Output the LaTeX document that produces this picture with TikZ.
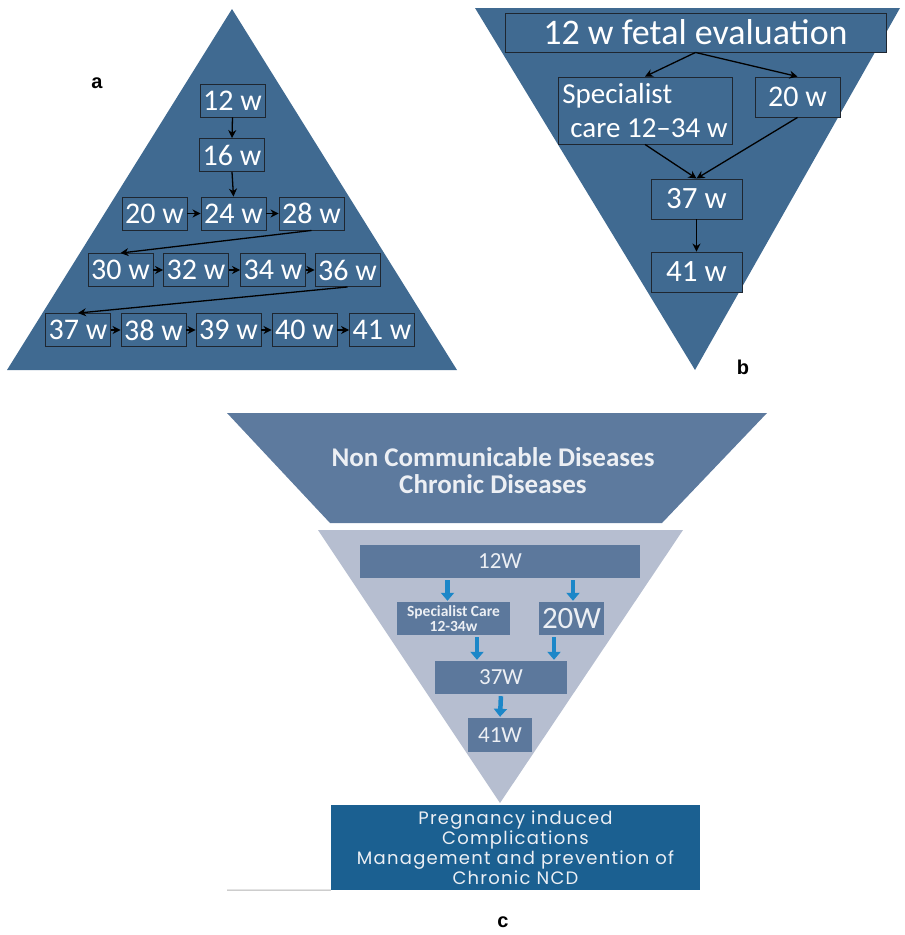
\documentclass[tikz,border=0pt]{standalone}
\usepackage{fontspec}
\setmainfont{Carlito}
\newfontfamily\lblfont{Liberation Sans}
\newfontfamily\geofont[LetterSpace=7]{Poppins}
\usetikzlibrary{arrows.meta,calc}
\definecolor{abfill}{RGB}{64,106,145}
\definecolor{abline}{RGB}{30,38,48}
\definecolor{ctrap}{RGB}{93,122,158}
\definecolor{ctri}{RGB}{182,190,208}
\definecolor{cbox}{RGB}{92,120,156}
\definecolor{carrow}{RGB}{28,135,200}
\definecolor{cbottom}{RGB}{27,96,145}
\definecolor{ctext}{RGB}{236,239,244}
\tikzset{
  wbox/.style={draw=abline, line width=0.9pt, fill=abfill, inner sep=0pt,
    minimum width=65pt, minimum height=33pt, text=white,
    font=\fontsize{30}{32}\selectfont},
  blk/.style={draw=black, line width=1.3pt, -{Stealth[length=8pt,width=8pt]}},
  cbx/.style={fill=cbox, inner sep=0pt, text=ctext, minimum height=33pt},
  carr/.style={draw=carrow, line width=4.5pt, -{Triangle[length=8pt,width=13pt]}, shorten <=2pt, shorten >=1pt},
  lbl/.style={font=\lblfont\bfseries\fontsize{20}{22}\selectfont, text=black}
}
\begin{document}
\begin{tikzpicture}[x=1pt,y=-1pt]
\useasboundingbox (0,0) rectangle (905,935);
% ---------- panel a ----------
\fill[abfill] (232,9) -- (457,370) -- (7,370) -- cycle;
\node[lbl] (la) at (97,83) {a};
\node[wbox] (a12) at (232.5,100.5) {12 w};
\node[wbox] (a16) at (232,155) {16 w};
\node[wbox] (a20) at (154.5,213.5) {20 w};
\node[wbox] (a24) at (233.5,213.5) {24 w};
\node[wbox] (a28) at (311.5,213.5) {28 w};
\node[wbox] (a30) at (120.5,270) {30 w};
\node[wbox] (a32) at (196,270) {32 w};
\node[wbox] (a34) at (273,270) {34 w};
\node[wbox] (a36) at (347.5,270) {36 w};
\node[wbox] (a37) at (78,330) {37 w};
\node[wbox] (a38) at (153.5,330) {38 w};
\node[wbox] (a39) at (228.5,330) {39 w};
\node[wbox] (a40) at (304.5,330) {40 w};
\node[wbox] (a41) at (382,330) {41 w};
\draw[blk] (a12.south) -- (a16.north);
\draw[blk] (a16.south) -- (a24.north);
\draw[blk] (a20) -- (a24);
\draw[blk] (a24) -- (a28);
\draw[blk] (a28.south) -- (a30.north);
\draw[blk] (a30) -- (a32);
\draw[blk] (a32) -- (a34);
\draw[blk] (a34) -- (a36);
\draw[blk] (a36.south) -- (a37.north);
\draw[blk] (a37) -- (a38);
\draw[blk] (a38) -- (a39);
\draw[blk] (a39) -- (a40);
\draw[blk] (a40) -- (a41);
% ---------- panel b ----------
\fill[abfill] (475,8) -- (900,8) -- (695,370) -- cycle;
\node[lbl] (lb) at (743,367) {b};
\node[wbox, minimum width=381pt, minimum height=39pt, font=\fontsize{36}{38}\selectfont] (bt) at (695.5,32.5) {12 w fetal evaluation};
\node[wbox, minimum width=174pt, minimum height=67pt, align=left, font=\fontsize{29}{34}\selectfont] (bs) at (645,110.5) {Specialist\\\hspace*{8pt}care 12–34 w};
\node[wbox, minimum width=85pt, minimum height=40pt] (b20) at (797.5,97) {20 w};
\node[wbox, minimum width=91pt, minimum height=40pt, font=\fontsize{31}{33}\selectfont] (b37) at (696.5,199) {37 w};
\node[wbox, minimum width=91pt, minimum height=40pt, font=\fontsize{31}{33}\selectfont] (b41) at (696.5,272) {41 w};
\draw[blk] (bt.south) -- (bs.north);
\draw[blk] (bt.south) -- (b20.north);
\draw[blk] (bs.south) -- (b37.north);
\draw[blk] (b20.south) -- (b37.north);
\draw[blk] (b37.south) -- (b41.north);
% ---------- panel c ----------
\fill[ctrap] (227,413) -- (767,413) -- (662,523) -- (330,523) -- cycle;
\node[text=ctext, align=center, font=\bfseries\fontsize{27}{27}\selectfont] (ncd) at (493,471) {Non Communicable Diseases\\Chronic Diseases};
\fill[ctri] (318,530) -- (683,530) -- (500,803) -- cycle;
\node[cbx, minimum width=280pt, font=\fontsize{23}{24}\selectfont] (c12) at (500,561.5) {12W};
\node[cbx, minimum width=113pt, align=center, font=\bfseries\fontsize{15.5}{14.5}\selectfont] (cs) at (453.5,618.5) {Specialist Care\\12-34w};
\node[cbx, minimum width=65pt, font=\fontsize{31}{32}\selectfont] (c20) at (571.5,618.5) {20W};
\node[cbx, minimum width=132pt, font=\fontsize{23}{24}\selectfont] (c37) at (501,677.5) {37W};
\node[cbx, minimum width=64pt, minimum height=34pt, font=\fontsize{23}{24}\selectfont] (c41) at (500,735) {41W};
\draw[carr] ([xshift=-6pt]cs.north |- c12.south) -- ([xshift=-6pt]cs.north);
\draw[carr] ([xshift=1.5pt]c20.north |- c12.south) -- ([xshift=1.5pt]c20.north);
\draw[carr] ([xshift=23.5pt]cs.south) -- ([xshift=23.5pt]cs.south |- c37.north);
\draw[carr] ([xshift=-17.5pt]c20.south) -- ([xshift=-17.5pt]c20.south |- c37.north);
\draw[carr] (c37.south) -- (c41.north);
\node[fill=cbottom, minimum width=369pt, minimum height=85pt, inner sep=0pt, text=ctext, align=center, font=\geofont\fontsize{18}{20}\selectfont] (cb) at (515.5,847.5) {Pregnancy induced\\Complications\\Management and prevention of\\Chronic NCD};
\coordinate (gl) at (227,890);
\draw[line width=1pt, draw=black!30] (gl) -- (cb.south west);
\node[lbl] (lc) at (503,922) {c};
\end{tikzpicture}
\end{document}
